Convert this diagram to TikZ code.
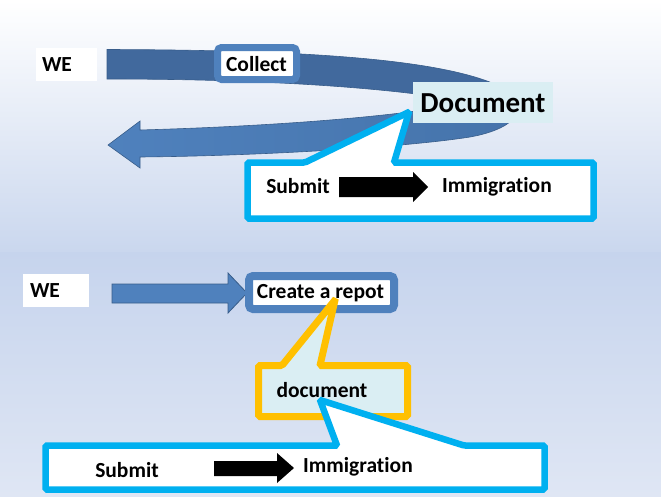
\documentclass[tikz,border=0pt]{standalone}
\usepackage{fontspec}
\setmainfont{Carlito}[Ligatures=NoCommon]
\usetikzlibrary{calc}
\definecolor{bandDark}{HTML}{41699D}
\definecolor{bandLight}{HTML}{4F81BD}
\definecolor{bandRight}{HTML}{4573AA}
\definecolor{bandEdge}{HTML}{385D8A}
\definecolor{calloutBlue}{HTML}{00B0F0}
\definecolor{calloutYellow}{HTML}{FFC000}
\definecolor{paleCyan}{HTML}{DAEEF3}
\definecolor{bgTopEnd}{HTML}{CAD7EE}
\definecolor{bgBotStart}{HTML}{C6D4ED}
\definecolor{bgBotEnd}{HTML}{DFE6F4}
\begin{document}
\begin{tikzpicture}[x=1pt,y=-1pt,
  lbl/.style={font=\bfseries\fontsize{21.5}{25}\selectfont, inner sep=0pt, text=black},
  bigLbl/.style={font=\bfseries\fontsize{29}{34}\selectfont, inner sep=0pt, text=black},
  webox/.style={fill=white, inner sep=0pt, minimum height=33pt},
  framebox/.style={draw=bandLight, fill=white, rounded corners=4pt, inner sep=0pt},
  blueCallout/.style={fill=white, draw=calloutBlue, line width=6.5pt, rounded corners=1.5pt},
  yellowCallout/.style={fill=paleCyan, draw=calloutYellow, line width=7pt, rounded corners=1.5pt},
  blackArrow/.style={fill=black},
  blueArrow/.style={fill=bandLight, draw=bandEdge, line width=0.8pt}
]
\useasboundingbox (0,0) rectangle (661,496);
% backgrounds
\shade[top color=white, bottom color=bgTopEnd] (0,0) rectangle (661,252);
\shade[top color=bgBotStart, bottom color=bgBotEnd] (0,252) rectangle (661,496);

% ===== top slide =====
\node[webox, minimum width=61pt] (weA) at (66.5,64.5) {};
\node[lbl, anchor=west] (weAt) at ($(weA.west)+(6,0)$) {WE};

% curved arrow: back (upper) band
\path[fill=bandDark, draw=bandEdge, line width=0.6pt]
  (107,49.5) .. controls (300,50) and (480,58) .. (520,100)
  -- (505,110) .. controls (440,92) and (300,79) .. (107,79) -- cycle;
% front (lower) band with head
\path[left color=bandLight, right color=bandRight, draw=bandEdge, line width=0.6pt]
  (108,145) -- (140,121) -- (140,130)
  .. controls (280,126) and (400,116) .. (460,104)
  -- (505,92) .. controls (530,105) and (520,128) .. (470,137)
  .. controls (400,148) and (250,156) .. (140,157)
  -- (140,168) -- cycle;

\node[framebox, line width=7pt, minimum width=79pt, minimum height=32pt] (collect) at (257,63.5) {};
\node[lbl] (collectT) at (256.5,64) {Collect};

\node[fill=paleCyan, inner sep=0pt, minimum width=140pt, minimum height=41pt] (docA) at (483,102.5) {};
\node[bigLbl] (docAt) at (483,103) {Document};

% callout
\path[blueCallout] (247.5,162.5) -- (305,162.5) -- (409,112) -- (394,162.5)
  -- (593.5,162.5) -- (593.5,218.5) -- (247.5,218.5) -- cycle;
\node[lbl] (submitA) at (298,186) {Submit};
\node[lbl] (immA) at (497,187) {Immigration};
\path[blackArrow] (339,177) -- (413,177) -- (413,172) -- (428,187) -- (413,202)
  -- (413,197) -- (339,197) -- cycle;

% ===== bottom slide =====
\node[webox, minimum width=66pt] (weB) at (56,290.5) {};
\node[lbl, anchor=west] (weBt) at ($(weB.west)+(7,0)$) {WE};

\path[blueArrow] (112,284) -- (228,284) -- (228,273) -- (247,293) -- (228,313)
  -- (228,303) -- (112,303) -- cycle;

\node[framebox, line width=8pt, minimum width=145pt, minimum height=33pt] (create) at (321.5,292.5) {};
\node[lbl] (createT) at (320.5,293) {Create a repot};

\path[yellowCallout] (258.5,365.5) -- (282,365.5) -- (335,300) -- (320,365.5)
  -- (407.5,365.5) -- (407.5,416.5) -- (258.5,416.5) -- cycle;
\node[lbl] (docB) at (322,390) {document};

\path[blueCallout] (45.5,445.5) -- (337,445.5) -- (320,400) -- (464,445.5)
  -- (544.5,445.5) -- (544.5,489.5) -- (45.5,489.5) -- cycle;
\node[lbl] (submitB) at (127,470) {Submit};
\node[lbl] (immB) at (358,467) {Immigration};
\path[blackArrow] (214,461) -- (277,461) -- (277,453) -- (294,468) -- (277,483)
  -- (277,476) -- (214,476) -- cycle;
\end{tikzpicture}
\end{document}
